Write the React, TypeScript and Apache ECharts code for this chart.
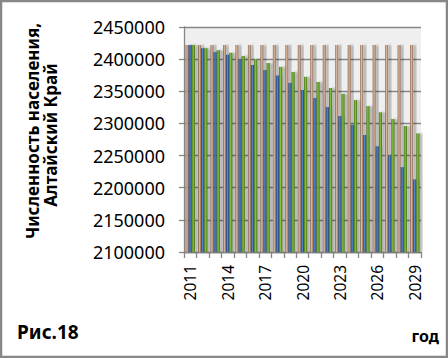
import React, { useEffect, useRef } from "react";
import * as echarts from "echarts";

const years = ["2011", "2012", "2013", "2014", "2015", "2016", "2017", "2018", "2019", "2020", "2021", "2022", "2023", "2024", "2025", "2026", "2027", "2028", "2029"];
const baseSeries = [2422000, 2422000, 2422000, 2422000, 2422000, 2422000, 2422000, 2422000, 2422000, 2422000, 2422000, 2422000, 2422000, 2422000, 2422000, 2422000, 2422000, 2422000, 2422000];
const blueSeries = [2422000, 2417000, 2411000, 2407000, 2400000, 2391000, 2383000, 2374500, 2363000, 2352000, 2339500, 2325500, 2311500, 2298000, 2282000, 2264500, 2250000, 2232000, 2213000];
const greenSeries = [2422000, 2417000, 2414000, 2410000, 2405000, 2400000, 2394000, 2388000, 2380000, 2372500, 2364500, 2355000, 2346000, 2336500, 2327000, 2317500, 2307000, 2296000, 2284500];
const yMin = 2100000;
const yMax = 2450000;
const yStep = 50000;
const yTitle1 = "Численность населения,";
const yTitle2 = "Алтайский Край";
const figLabel = "Рис.18";
const xTitle = "год";

function grad(edge: string, mid: string) {
  return {
    type: "linear",
    x: 0,
    y: 0,
    x2: 1,
    y2: 0,
    colorStops: [
      { offset: 0, color: edge },
      { offset: 0.45, color: mid },
      { offset: 1, color: edge },
    ],
  };
}

export default function App() {
  const ref = useRef<HTMLDivElement>(null);
  useEffect(() => {
    if (!ref.current) return;
    const chart = echarts.init(ref.current, undefined, { renderer: "svg" });
    const shadow = {
      shadowColor: "rgba(0,0,0,0.28)",
      shadowBlur: 2,
      shadowOffsetX: 3,
      shadowOffsetY: 0,
    };
    const font = "Noto Sans";
    chart.setOption({
      animation: false,
      backgroundColor: "#ffffff",
      grid: {
        left: 184,
        right: 27,
        top: 27,
        bottom: 106,
        show: true,
        backgroundColor: "#efefef",
        borderWidth: 0,
      },
      xAxis: {
        type: "category",
        data: years,
        axisLine: { show: true, lineStyle: { color: "#868686", width: 1.3 } },
        axisTick: { show: true, interval: 0, length: 6, lineStyle: { color: "#868686", width: 1.3 } },
        axisLabel: {
          interval: 2,
          rotate: 90,
          margin: 13,
          color: "#000",
          fontFamily: font,
          fontSize: 15.5,
        },
      },
      yAxis: {
        type: "value",
        min: yMin,
        max: yMax,
        interval: yStep,
        axisLine: { show: true, lineStyle: { color: "#868686", width: 1.3 } },
        axisTick: { show: true, length: 5, lineStyle: { color: "#868686", width: 1.3 } },
        splitLine: { show: true, lineStyle: { color: "#868686", width: 1.3 } },
        axisLabel: {
          margin: 19,
          color: "#000",
          fontFamily: font,
          fontSize: 18,
          formatter: (v: number) => String(v),
        },
      },
      series: [
        {
          type: "bar",
          data: baseSeries,
          barWidth: 3,
          barGap: "0%",
          itemStyle: { color: grad("#8a6650", "#dcb99e"), ...shadow },
        },
        {
          type: "bar",
          data: blueSeries,
          barWidth: 3.2,
          barGap: "0%",
          itemStyle: { color: grad("#223f6e", "#5687cc"), ...shadow },
        },
        {
          type: "bar",
          data: greenSeries,
          barWidth: 3.2,
          barGap: "0%",
          itemStyle: { color: grad("#446f14", "#86c040"), ...shadow },
        },
      ],
      graphic: [
        {
          type: "rect",
          shape: { x: 1, y: 1, width: 446, height: 356 },
          style: { fill: "none", stroke: "#878787", lineWidth: 2.5 },
          silent: true,
        },
        {
          type: "text",
          x: 32,
          y: 131,
          rotation: Math.PI / 2,
          style: {
            text: yTitle1,
            fontFamily: font,
            fontWeight: "bold",
            fontSize: 17,
            fill: "#000",
            align: "center",
            verticalAlign: "middle",
          },
        },
        {
          type: "text",
          x: 50,
          y: 135,
          rotation: Math.PI / 2,
          style: {
            text: yTitle2,
            fontFamily: font,
            fontWeight: "bold",
            fontSize: 17,
            fill: "#000",
            align: "center",
            verticalAlign: "middle",
          },
        },
        {
          type: "text",
          x: 17,
          y: 332,
          style: {
            text: figLabel,
            fontFamily: font,
            fontWeight: "bold",
            fontSize: 19,
            fill: "#000",
            align: "left",
            verticalAlign: "middle",
          },
        },
        {
          type: "text",
          x: 439,
          y: 336,
          style: {
            text: xTitle,
            fontFamily: font,
            fontWeight: "bold",
            fontSize: 16,
            fill: "#000",
            align: "right",
            verticalAlign: "middle",
          },
        },
      ],
    });
    return () => chart.dispose();
  }, []);
  return (
    <div
      ref={ref}
      style={{ position: "fixed", left: 0, top: 0, width: 448, height: 358 }}
    />
  );
}
